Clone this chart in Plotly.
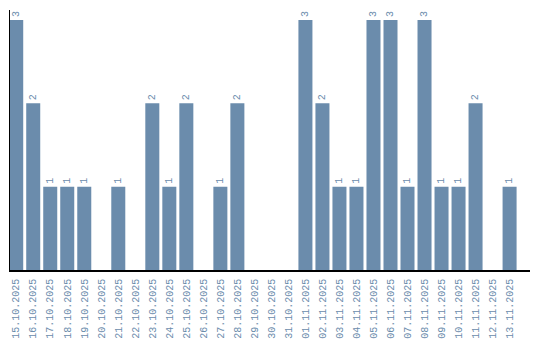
import plotly.graph_objects as go

dates = ["15.10.2025", "16.10.2025", "17.10.2025", "18.10.2025", "19.10.2025",
         "20.10.2025", "21.10.2025", "22.10.2025", "23.10.2025", "24.10.2025",
         "25.10.2025", "26.10.2025", "27.10.2025", "28.10.2025", "29.10.2025",
         "30.10.2025", "31.10.2025", "01.11.2025", "02.11.2025", "03.11.2025",
         "04.11.2025", "05.11.2025", "06.11.2025", "07.11.2025", "08.11.2025",
         "09.11.2025", "10.11.2025", "11.11.2025", "12.11.2025", "13.11.2025"]
counts = [3, 2, 1, 1, 1, 0, 1, 0, 2, 1, 2, 0, 1, 2, 0, 0, 0, 3, 2, 1, 1, 3, 3, 1, 3, 1, 1, 2, 0, 1]

bar_color = "#6b8cac"
font_family = "Liberation Mono, DejaVu Sans Mono, monospace"

labels = [str(c) if c > 0 else "" for c in counts]

fig = go.Figure(go.Bar(
    x=list(range(len(dates))),
    y=counts,
    marker=dict(color=bar_color, line=dict(width=0)),
    text=labels,
    textposition="outside",
    textangle=-90,
    textfont=dict(color=bar_color, size=10, family=font_family),
    cliponaxis=False,
    width=14 / 17,
))

fig.update_layout(
    width=540, height=340,
    margin=dict(l=10, r=10, t=10, b=70, autoexpand=False),
    paper_bgcolor="white", plot_bgcolor="white",
    showlegend=False,
    font=dict(family=font_family, color=bar_color, size=10),
    uniformtext=dict(minsize=10, mode="show"),
    xaxis=dict(
        range=[-0.365, 30.2],
        automargin=False,
        tickmode="array",
        tickvals=list(range(len(dates))),
        ticktext=dates,
        tickangle=-90,
        tickfont=dict(color=bar_color, size=10, family=font_family),
        showgrid=False, zeroline=False,
        showline=True, linecolor="black", linewidth=1.5,
        ticks="outside", ticklen=3, tickcolor="rgba(0,0,0,0)",
        layer="below traces",
    ),
    yaxis=dict(
        range=[0, 3.12],
        automargin=False,
        showgrid=False, zeroline=False,
        showticklabels=False, ticks="",
        showline=True, linecolor="black", linewidth=1,
        layer="below traces",
    ),
)

fig.write_html("out.html")
